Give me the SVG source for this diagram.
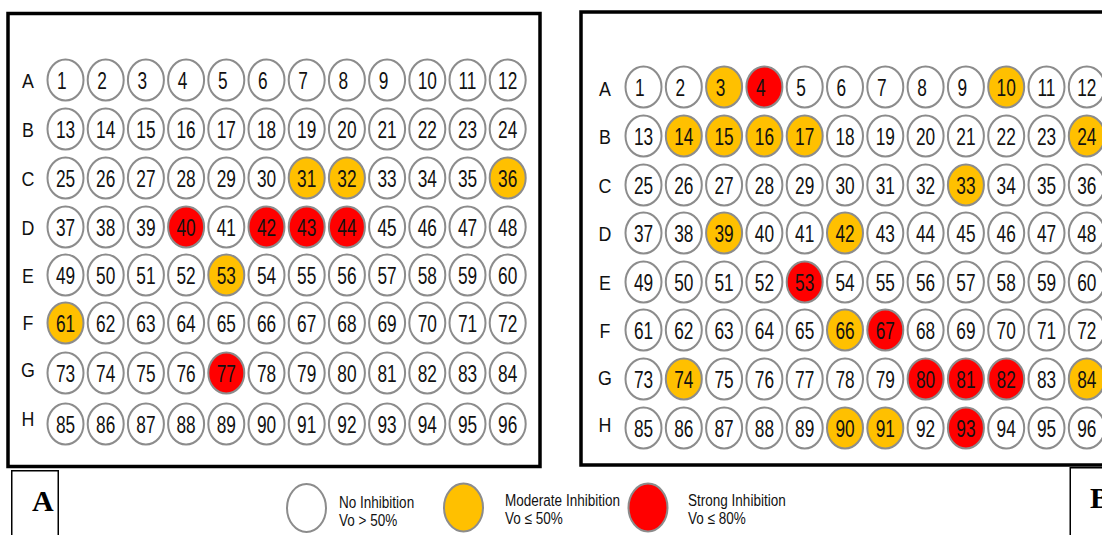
<svg xmlns="http://www.w3.org/2000/svg" width="1102" height="535" viewBox="0 0 1102 535">
<style>
.bg{fill:#fff}
.frame{fill:none;stroke:#000;stroke-width:3.5}
.lbox{fill:none;stroke:#000;stroke-width:1.5}
.w{fill:#fff;stroke:#8c8c8c;stroke-width:2}
.o{fill:#ffc000}
.r{fill:#ff0000}
.n{font-family:"Liberation Sans",Arial,sans-serif;font-size:24px;text-anchor:middle;fill:#111;transform:scaleX(.72)}
.row{font-family:"Liberation Sans",Arial,sans-serif;font-size:21px;text-anchor:middle;fill:#111;transform:scaleX(.85)}
.pl{font-family:"Liberation Serif","Times New Roman",serif;font-size:30px;font-weight:bold;fill:#000}
.lg{font-family:"Liberation Sans",Arial,sans-serif;font-size:16.5px;fill:#111;transform:scaleX(.82)}
</style>
<rect class="bg" width="1102" height="535"/>

<g id="panelA">
<rect class="frame" x="8" y="13.5" width="532" height="453"/>
<g id="rowsA">
<g transform="translate(28,87.5)"><text class="row">A</text></g>
<g transform="translate(28,136.5)"><text class="row">B</text></g>
<g transform="translate(28,185.5)"><text class="row">C</text></g>
<g transform="translate(28,234.5)"><text class="row">D</text></g>
<g transform="translate(28,282.5)"><text class="row">E</text></g>
<g transform="translate(28,329.5)"><text class="row">F</text></g>
<g transform="translate(28,376.5)"><text class="row">G</text></g>
<g transform="translate(28,425.5)"><text class="row">H</text></g>
</g>
<g id="A1" transform="translate(65.5,80)"><ellipse class="w" rx="18" ry="20.5"/><text class="n" x="-5" y="8.5">1</text></g>
<g id="A2" transform="translate(105.7,80)"><ellipse class="w" rx="18" ry="20.5"/><text class="n" x="-5" y="8.5">2</text></g>
<g id="A3" transform="translate(145.9,80)"><ellipse class="w" rx="18" ry="20.5"/><text class="n" x="-5" y="8.5">3</text></g>
<g id="A4" transform="translate(186.1,80)"><ellipse class="w" rx="18" ry="20.5"/><text class="n" x="-5" y="8.5">4</text></g>
<g id="A5" transform="translate(226.3,80)"><ellipse class="w" rx="18" ry="20.5"/><text class="n" x="-5" y="8.5">5</text></g>
<g id="A6" transform="translate(266.5,80)"><ellipse class="w" rx="18" ry="20.5"/><text class="n" x="-5" y="8.5">6</text></g>
<g id="A7" transform="translate(306.7,80)"><ellipse class="w" rx="18" ry="20.5"/><text class="n" x="-5" y="8.5">7</text></g>
<g id="A8" transform="translate(346.9,80)"><ellipse class="w" rx="18" ry="20.5"/><text class="n" x="-5" y="8.5">8</text></g>
<g id="A9" transform="translate(387.1,80)"><ellipse class="w" rx="18" ry="20.5"/><text class="n" x="-5" y="8.5">9</text></g>
<g id="A10" transform="translate(427.3,80)"><ellipse class="w" rx="18" ry="20.5"/><text class="n" y="8.5">10</text></g>
<g id="A11" transform="translate(467.5,80)"><ellipse class="w" rx="18" ry="20.5"/><text class="n" y="8.5">11</text></g>
<g id="A12" transform="translate(507.7,80)"><ellipse class="w" rx="18" ry="20.5"/><text class="n" y="8.5">12</text></g>
<g id="A13" transform="translate(65.5,129)"><ellipse class="w" rx="18" ry="20.5"/><text class="n" y="8.5">13</text></g>
<g id="A14" transform="translate(105.7,129)"><ellipse class="w" rx="18" ry="20.5"/><text class="n" y="8.5">14</text></g>
<g id="A15" transform="translate(145.9,129)"><ellipse class="w" rx="18" ry="20.5"/><text class="n" y="8.5">15</text></g>
<g id="A16" transform="translate(186.1,129)"><ellipse class="w" rx="18" ry="20.5"/><text class="n" y="8.5">16</text></g>
<g id="A17" transform="translate(226.3,129)"><ellipse class="w" rx="18" ry="20.5"/><text class="n" y="8.5">17</text></g>
<g id="A18" transform="translate(266.5,129)"><ellipse class="w" rx="18" ry="20.5"/><text class="n" y="8.5">18</text></g>
<g id="A19" transform="translate(306.7,129)"><ellipse class="w" rx="18" ry="20.5"/><text class="n" y="8.5">19</text></g>
<g id="A20" transform="translate(346.9,129)"><ellipse class="w" rx="18" ry="20.5"/><text class="n" y="8.5">20</text></g>
<g id="A21" transform="translate(387.1,129)"><ellipse class="w" rx="18" ry="20.5"/><text class="n" y="8.5">21</text></g>
<g id="A22" transform="translate(427.3,129)"><ellipse class="w" rx="18" ry="20.5"/><text class="n" y="8.5">22</text></g>
<g id="A23" transform="translate(467.5,129)"><ellipse class="w" rx="18" ry="20.5"/><text class="n" y="8.5">23</text></g>
<g id="A24" transform="translate(507.7,129)"><ellipse class="w" rx="18" ry="20.5"/><text class="n" y="8.5">24</text></g>
<g id="A25" transform="translate(65.5,178)"><ellipse class="w" rx="18" ry="20.5"/><text class="n" y="8.5">25</text></g>
<g id="A26" transform="translate(105.7,178)"><ellipse class="w" rx="18" ry="20.5"/><text class="n" y="8.5">26</text></g>
<g id="A27" transform="translate(145.9,178)"><ellipse class="w" rx="18" ry="20.5"/><text class="n" y="8.5">27</text></g>
<g id="A28" transform="translate(186.1,178)"><ellipse class="w" rx="18" ry="20.5"/><text class="n" y="8.5">28</text></g>
<g id="A29" transform="translate(226.3,178)"><ellipse class="w" rx="18" ry="20.5"/><text class="n" y="8.5">29</text></g>
<g id="A30" transform="translate(266.5,178)"><ellipse class="w" rx="18" ry="20.5"/><text class="n" y="8.5">30</text></g>
<g id="A31" transform="translate(306.7,178)"><ellipse class="w o" rx="18" ry="20.5"/><text class="n" y="8.5">31</text></g>
<g id="A32" transform="translate(346.9,178)"><ellipse class="w o" rx="18" ry="20.5"/><text class="n" y="8.5">32</text></g>
<g id="A33" transform="translate(387.1,178)"><ellipse class="w" rx="18" ry="20.5"/><text class="n" y="8.5">33</text></g>
<g id="A34" transform="translate(427.3,178)"><ellipse class="w" rx="18" ry="20.5"/><text class="n" y="8.5">34</text></g>
<g id="A35" transform="translate(467.5,178)"><ellipse class="w" rx="18" ry="20.5"/><text class="n" y="8.5">35</text></g>
<g id="A36" transform="translate(507.7,178)"><ellipse class="w o" rx="18" ry="20.5"/><text class="n" y="8.5">36</text></g>
<g id="A37" transform="translate(65.5,227)"><ellipse class="w" rx="18" ry="20.5"/><text class="n" y="8.5">37</text></g>
<g id="A38" transform="translate(105.7,227)"><ellipse class="w" rx="18" ry="20.5"/><text class="n" y="8.5">38</text></g>
<g id="A39" transform="translate(145.9,227)"><ellipse class="w" rx="18" ry="20.5"/><text class="n" y="8.5">39</text></g>
<g id="A40" transform="translate(186.1,227)"><ellipse class="w r" rx="18" ry="20.5"/><text class="n" y="8.5">40</text></g>
<g id="A41" transform="translate(226.3,227)"><ellipse class="w" rx="18" ry="20.5"/><text class="n" y="8.5">41</text></g>
<g id="A42" transform="translate(266.5,227)"><ellipse class="w r" rx="18" ry="20.5"/><text class="n" y="8.5">42</text></g>
<g id="A43" transform="translate(306.7,227)"><ellipse class="w r" rx="18" ry="20.5"/><text class="n" y="8.5">43</text></g>
<g id="A44" transform="translate(346.9,227)"><ellipse class="w r" rx="18" ry="20.5"/><text class="n" y="8.5">44</text></g>
<g id="A45" transform="translate(387.1,227)"><ellipse class="w" rx="18" ry="20.5"/><text class="n" y="8.5">45</text></g>
<g id="A46" transform="translate(427.3,227)"><ellipse class="w" rx="18" ry="20.5"/><text class="n" y="8.5">46</text></g>
<g id="A47" transform="translate(467.5,227)"><ellipse class="w" rx="18" ry="20.5"/><text class="n" y="8.5">47</text></g>
<g id="A48" transform="translate(507.7,227)"><ellipse class="w" rx="18" ry="20.5"/><text class="n" y="8.5">48</text></g>
<g id="A49" transform="translate(65.5,275)"><ellipse class="w" rx="18" ry="20.5"/><text class="n" y="8.5">49</text></g>
<g id="A50" transform="translate(105.7,275)"><ellipse class="w" rx="18" ry="20.5"/><text class="n" y="8.5">50</text></g>
<g id="A51" transform="translate(145.9,275)"><ellipse class="w" rx="18" ry="20.5"/><text class="n" y="8.5">51</text></g>
<g id="A52" transform="translate(186.1,275)"><ellipse class="w" rx="18" ry="20.5"/><text class="n" y="8.5">52</text></g>
<g id="A53" transform="translate(226.3,275)"><ellipse class="w o" rx="18" ry="20.5"/><text class="n" y="8.5">53</text></g>
<g id="A54" transform="translate(266.5,275)"><ellipse class="w" rx="18" ry="20.5"/><text class="n" y="8.5">54</text></g>
<g id="A55" transform="translate(306.7,275)"><ellipse class="w" rx="18" ry="20.5"/><text class="n" y="8.5">55</text></g>
<g id="A56" transform="translate(346.9,275)"><ellipse class="w" rx="18" ry="20.5"/><text class="n" y="8.5">56</text></g>
<g id="A57" transform="translate(387.1,275)"><ellipse class="w" rx="18" ry="20.5"/><text class="n" y="8.5">57</text></g>
<g id="A58" transform="translate(427.3,275)"><ellipse class="w" rx="18" ry="20.5"/><text class="n" y="8.5">58</text></g>
<g id="A59" transform="translate(467.5,275)"><ellipse class="w" rx="18" ry="20.5"/><text class="n" y="8.5">59</text></g>
<g id="A60" transform="translate(507.7,275)"><ellipse class="w" rx="18" ry="20.5"/><text class="n" y="8.5">60</text></g>
<g id="A61" transform="translate(65.5,323)"><ellipse class="w o" rx="18" ry="20.5"/><text class="n" y="8.5">61</text></g>
<g id="A62" transform="translate(105.7,323)"><ellipse class="w" rx="18" ry="20.5"/><text class="n" y="8.5">62</text></g>
<g id="A63" transform="translate(145.9,323)"><ellipse class="w" rx="18" ry="20.5"/><text class="n" y="8.5">63</text></g>
<g id="A64" transform="translate(186.1,323)"><ellipse class="w" rx="18" ry="20.5"/><text class="n" y="8.5">64</text></g>
<g id="A65" transform="translate(226.3,323)"><ellipse class="w" rx="18" ry="20.5"/><text class="n" y="8.5">65</text></g>
<g id="A66" transform="translate(266.5,323)"><ellipse class="w" rx="18" ry="20.5"/><text class="n" y="8.5">66</text></g>
<g id="A67" transform="translate(306.7,323)"><ellipse class="w" rx="18" ry="20.5"/><text class="n" y="8.5">67</text></g>
<g id="A68" transform="translate(346.9,323)"><ellipse class="w" rx="18" ry="20.5"/><text class="n" y="8.5">68</text></g>
<g id="A69" transform="translate(387.1,323)"><ellipse class="w" rx="18" ry="20.5"/><text class="n" y="8.5">69</text></g>
<g id="A70" transform="translate(427.3,323)"><ellipse class="w" rx="18" ry="20.5"/><text class="n" y="8.5">70</text></g>
<g id="A71" transform="translate(467.5,323)"><ellipse class="w" rx="18" ry="20.5"/><text class="n" y="8.5">71</text></g>
<g id="A72" transform="translate(507.7,323)"><ellipse class="w" rx="18" ry="20.5"/><text class="n" y="8.5">72</text></g>
<g id="A73" transform="translate(65.5,373)"><ellipse class="w" rx="18" ry="20.5"/><text class="n" y="8.5">73</text></g>
<g id="A74" transform="translate(105.7,373)"><ellipse class="w" rx="18" ry="20.5"/><text class="n" y="8.5">74</text></g>
<g id="A75" transform="translate(145.9,373)"><ellipse class="w" rx="18" ry="20.5"/><text class="n" y="8.5">75</text></g>
<g id="A76" transform="translate(186.1,373)"><ellipse class="w" rx="18" ry="20.5"/><text class="n" y="8.5">76</text></g>
<g id="A77" transform="translate(226.3,373)"><ellipse class="w r" rx="18" ry="20.5"/><text class="n" y="8.5">77</text></g>
<g id="A78" transform="translate(266.5,373)"><ellipse class="w" rx="18" ry="20.5"/><text class="n" y="8.5">78</text></g>
<g id="A79" transform="translate(306.7,373)"><ellipse class="w" rx="18" ry="20.5"/><text class="n" y="8.5">79</text></g>
<g id="A80" transform="translate(346.9,373)"><ellipse class="w" rx="18" ry="20.5"/><text class="n" y="8.5">80</text></g>
<g id="A81" transform="translate(387.1,373)"><ellipse class="w" rx="18" ry="20.5"/><text class="n" y="8.5">81</text></g>
<g id="A82" transform="translate(427.3,373)"><ellipse class="w" rx="18" ry="20.5"/><text class="n" y="8.5">82</text></g>
<g id="A83" transform="translate(467.5,373)"><ellipse class="w" rx="18" ry="20.5"/><text class="n" y="8.5">83</text></g>
<g id="A84" transform="translate(507.7,373)"><ellipse class="w" rx="18" ry="20.5"/><text class="n" y="8.5">84</text></g>
<g id="A85" transform="translate(65.5,424)"><ellipse class="w" rx="18" ry="20.5"/><text class="n" y="8.5">85</text></g>
<g id="A86" transform="translate(105.7,424)"><ellipse class="w" rx="18" ry="20.5"/><text class="n" y="8.5">86</text></g>
<g id="A87" transform="translate(145.9,424)"><ellipse class="w" rx="18" ry="20.5"/><text class="n" y="8.5">87</text></g>
<g id="A88" transform="translate(186.1,424)"><ellipse class="w" rx="18" ry="20.5"/><text class="n" y="8.5">88</text></g>
<g id="A89" transform="translate(226.3,424)"><ellipse class="w" rx="18" ry="20.5"/><text class="n" y="8.5">89</text></g>
<g id="A90" transform="translate(266.5,424)"><ellipse class="w" rx="18" ry="20.5"/><text class="n" y="8.5">90</text></g>
<g id="A91" transform="translate(306.7,424)"><ellipse class="w" rx="18" ry="20.5"/><text class="n" y="8.5">91</text></g>
<g id="A92" transform="translate(346.9,424)"><ellipse class="w" rx="18" ry="20.5"/><text class="n" y="8.5">92</text></g>
<g id="A93" transform="translate(387.1,424)"><ellipse class="w" rx="18" ry="20.5"/><text class="n" y="8.5">93</text></g>
<g id="A94" transform="translate(427.3,424)"><ellipse class="w" rx="18" ry="20.5"/><text class="n" y="8.5">94</text></g>
<g id="A95" transform="translate(467.5,424)"><ellipse class="w" rx="18" ry="20.5"/><text class="n" y="8.5">95</text></g>
<g id="A96" transform="translate(507.7,424)"><ellipse class="w" rx="18" ry="20.5"/><text class="n" y="8.5">96</text></g>
</g>

<g id="panelB">
<rect class="frame" x="581" y="12" width="540" height="453"/>
<g id="rowsB">
<g transform="translate(605,95.5)"><text class="row">A</text></g>
<g transform="translate(605,143.5)"><text class="row">B</text></g>
<g transform="translate(605,192.5)"><text class="row">C</text></g>
<g transform="translate(605,240.5)"><text class="row">D</text></g>
<g transform="translate(605,289.5)"><text class="row">E</text></g>
<g transform="translate(605,337.5)"><text class="row">F</text></g>
<g transform="translate(605,384.5)"><text class="row">G</text></g>
<g transform="translate(605,431.5)"><text class="row">H</text></g>
</g>
<g id="B1" transform="translate(643.5,87)"><ellipse class="w" rx="18" ry="20.5"/><text class="n" x="-5" y="8.5">1</text></g>
<g id="B2" transform="translate(683.8,87)"><ellipse class="w" rx="18" ry="20.5"/><text class="n" x="-5" y="8.5">2</text></g>
<g id="B3" transform="translate(724.1,87)"><ellipse class="w o" rx="18" ry="20.5"/><text class="n" x="-5" y="8.5">3</text></g>
<g id="B4" transform="translate(764.4,87)"><ellipse class="w r" rx="18" ry="20.5"/><text class="n" x="-5" y="8.5">4</text></g>
<g id="B5" transform="translate(804.7,87)"><ellipse class="w" rx="18" ry="20.5"/><text class="n" x="-5" y="8.5">5</text></g>
<g id="B6" transform="translate(845,87)"><ellipse class="w" rx="18" ry="20.5"/><text class="n" x="-5" y="8.5">6</text></g>
<g id="B7" transform="translate(885.3,87)"><ellipse class="w" rx="18" ry="20.5"/><text class="n" x="-5" y="8.5">7</text></g>
<g id="B8" transform="translate(925.6,87)"><ellipse class="w" rx="18" ry="20.5"/><text class="n" x="-5" y="8.5">8</text></g>
<g id="B9" transform="translate(965.9,87)"><ellipse class="w" rx="18" ry="20.5"/><text class="n" x="-5" y="8.5">9</text></g>
<g id="B10" transform="translate(1006.2,87)"><ellipse class="w o" rx="18" ry="20.5"/><text class="n" y="8.5">10</text></g>
<g id="B11" transform="translate(1046.5,87)"><ellipse class="w" rx="18" ry="20.5"/><text class="n" y="8.5">11</text></g>
<g id="B12" transform="translate(1086.8,87)"><ellipse class="w" rx="18" ry="20.5"/><text class="n" y="8.5">12</text></g>
<g id="B13" transform="translate(643.5,136)"><ellipse class="w" rx="18" ry="20.5"/><text class="n" y="8.5">13</text></g>
<g id="B14" transform="translate(683.8,136)"><ellipse class="w o" rx="18" ry="20.5"/><text class="n" y="8.5">14</text></g>
<g id="B15" transform="translate(724.1,136)"><ellipse class="w o" rx="18" ry="20.5"/><text class="n" y="8.5">15</text></g>
<g id="B16" transform="translate(764.4,136)"><ellipse class="w o" rx="18" ry="20.5"/><text class="n" y="8.5">16</text></g>
<g id="B17" transform="translate(804.7,136)"><ellipse class="w o" rx="18" ry="20.5"/><text class="n" y="8.5">17</text></g>
<g id="B18" transform="translate(845,136)"><ellipse class="w" rx="18" ry="20.5"/><text class="n" y="8.5">18</text></g>
<g id="B19" transform="translate(885.3,136)"><ellipse class="w" rx="18" ry="20.5"/><text class="n" y="8.5">19</text></g>
<g id="B20" transform="translate(925.6,136)"><ellipse class="w" rx="18" ry="20.5"/><text class="n" y="8.5">20</text></g>
<g id="B21" transform="translate(965.9,136)"><ellipse class="w" rx="18" ry="20.5"/><text class="n" y="8.5">21</text></g>
<g id="B22" transform="translate(1006.2,136)"><ellipse class="w" rx="18" ry="20.5"/><text class="n" y="8.5">22</text></g>
<g id="B23" transform="translate(1046.5,136)"><ellipse class="w" rx="18" ry="20.5"/><text class="n" y="8.5">23</text></g>
<g id="B24" transform="translate(1086.8,136)"><ellipse class="w o" rx="18" ry="20.5"/><text class="n" y="8.5">24</text></g>
<g id="B25" transform="translate(643.5,185)"><ellipse class="w" rx="18" ry="20.5"/><text class="n" y="8.5">25</text></g>
<g id="B26" transform="translate(683.8,185)"><ellipse class="w" rx="18" ry="20.5"/><text class="n" y="8.5">26</text></g>
<g id="B27" transform="translate(724.1,185)"><ellipse class="w" rx="18" ry="20.5"/><text class="n" y="8.5">27</text></g>
<g id="B28" transform="translate(764.4,185)"><ellipse class="w" rx="18" ry="20.5"/><text class="n" y="8.5">28</text></g>
<g id="B29" transform="translate(804.7,185)"><ellipse class="w" rx="18" ry="20.5"/><text class="n" y="8.5">29</text></g>
<g id="B30" transform="translate(845,185)"><ellipse class="w" rx="18" ry="20.5"/><text class="n" y="8.5">30</text></g>
<g id="B31" transform="translate(885.3,185)"><ellipse class="w" rx="18" ry="20.5"/><text class="n" y="8.5">31</text></g>
<g id="B32" transform="translate(925.6,185)"><ellipse class="w" rx="18" ry="20.5"/><text class="n" y="8.5">32</text></g>
<g id="B33" transform="translate(965.9,185)"><ellipse class="w o" rx="18" ry="20.5"/><text class="n" y="8.5">33</text></g>
<g id="B34" transform="translate(1006.2,185)"><ellipse class="w" rx="18" ry="20.5"/><text class="n" y="8.5">34</text></g>
<g id="B35" transform="translate(1046.5,185)"><ellipse class="w" rx="18" ry="20.5"/><text class="n" y="8.5">35</text></g>
<g id="B36" transform="translate(1086.8,185)"><ellipse class="w" rx="18" ry="20.5"/><text class="n" y="8.5">36</text></g>
<g id="B37" transform="translate(643.5,233)"><ellipse class="w" rx="18" ry="20.5"/><text class="n" y="8.5">37</text></g>
<g id="B38" transform="translate(683.8,233)"><ellipse class="w" rx="18" ry="20.5"/><text class="n" y="8.5">38</text></g>
<g id="B39" transform="translate(724.1,233)"><ellipse class="w o" rx="18" ry="20.5"/><text class="n" y="8.5">39</text></g>
<g id="B40" transform="translate(764.4,233)"><ellipse class="w" rx="18" ry="20.5"/><text class="n" y="8.5">40</text></g>
<g id="B41" transform="translate(804.7,233)"><ellipse class="w" rx="18" ry="20.5"/><text class="n" y="8.5">41</text></g>
<g id="B42" transform="translate(845,233)"><ellipse class="w o" rx="18" ry="20.5"/><text class="n" y="8.5">42</text></g>
<g id="B43" transform="translate(885.3,233)"><ellipse class="w" rx="18" ry="20.5"/><text class="n" y="8.5">43</text></g>
<g id="B44" transform="translate(925.6,233)"><ellipse class="w" rx="18" ry="20.5"/><text class="n" y="8.5">44</text></g>
<g id="B45" transform="translate(965.9,233)"><ellipse class="w" rx="18" ry="20.5"/><text class="n" y="8.5">45</text></g>
<g id="B46" transform="translate(1006.2,233)"><ellipse class="w" rx="18" ry="20.5"/><text class="n" y="8.5">46</text></g>
<g id="B47" transform="translate(1046.5,233)"><ellipse class="w" rx="18" ry="20.5"/><text class="n" y="8.5">47</text></g>
<g id="B48" transform="translate(1086.8,233)"><ellipse class="w" rx="18" ry="20.5"/><text class="n" y="8.5">48</text></g>
<g id="B49" transform="translate(643.5,282)"><ellipse class="w" rx="18" ry="20.5"/><text class="n" y="8.5">49</text></g>
<g id="B50" transform="translate(683.8,282)"><ellipse class="w" rx="18" ry="20.5"/><text class="n" y="8.5">50</text></g>
<g id="B51" transform="translate(724.1,282)"><ellipse class="w" rx="18" ry="20.5"/><text class="n" y="8.5">51</text></g>
<g id="B52" transform="translate(764.4,282)"><ellipse class="w" rx="18" ry="20.5"/><text class="n" y="8.5">52</text></g>
<g id="B53" transform="translate(804.7,282)"><ellipse class="w r" rx="18" ry="20.5"/><text class="n" y="8.5">53</text></g>
<g id="B54" transform="translate(845,282)"><ellipse class="w" rx="18" ry="20.5"/><text class="n" y="8.5">54</text></g>
<g id="B55" transform="translate(885.3,282)"><ellipse class="w" rx="18" ry="20.5"/><text class="n" y="8.5">55</text></g>
<g id="B56" transform="translate(925.6,282)"><ellipse class="w" rx="18" ry="20.5"/><text class="n" y="8.5">56</text></g>
<g id="B57" transform="translate(965.9,282)"><ellipse class="w" rx="18" ry="20.5"/><text class="n" y="8.5">57</text></g>
<g id="B58" transform="translate(1006.2,282)"><ellipse class="w" rx="18" ry="20.5"/><text class="n" y="8.5">58</text></g>
<g id="B59" transform="translate(1046.5,282)"><ellipse class="w" rx="18" ry="20.5"/><text class="n" y="8.5">59</text></g>
<g id="B60" transform="translate(1086.8,282)"><ellipse class="w" rx="18" ry="20.5"/><text class="n" y="8.5">60</text></g>
<g id="B61" transform="translate(643.5,330)"><ellipse class="w" rx="18" ry="20.5"/><text class="n" y="8.5">61</text></g>
<g id="B62" transform="translate(683.8,330)"><ellipse class="w" rx="18" ry="20.5"/><text class="n" y="8.5">62</text></g>
<g id="B63" transform="translate(724.1,330)"><ellipse class="w" rx="18" ry="20.5"/><text class="n" y="8.5">63</text></g>
<g id="B64" transform="translate(764.4,330)"><ellipse class="w" rx="18" ry="20.5"/><text class="n" y="8.5">64</text></g>
<g id="B65" transform="translate(804.7,330)"><ellipse class="w" rx="18" ry="20.5"/><text class="n" y="8.5">65</text></g>
<g id="B66" transform="translate(845,330)"><ellipse class="w o" rx="18" ry="20.5"/><text class="n" y="8.5">66</text></g>
<g id="B67" transform="translate(885.3,330)"><ellipse class="w r" rx="18" ry="20.5"/><text class="n" y="8.5">67</text></g>
<g id="B68" transform="translate(925.6,330)"><ellipse class="w" rx="18" ry="20.5"/><text class="n" y="8.5">68</text></g>
<g id="B69" transform="translate(965.9,330)"><ellipse class="w" rx="18" ry="20.5"/><text class="n" y="8.5">69</text></g>
<g id="B70" transform="translate(1006.2,330)"><ellipse class="w" rx="18" ry="20.5"/><text class="n" y="8.5">70</text></g>
<g id="B71" transform="translate(1046.5,330)"><ellipse class="w" rx="18" ry="20.5"/><text class="n" y="8.5">71</text></g>
<g id="B72" transform="translate(1086.8,330)"><ellipse class="w" rx="18" ry="20.5"/><text class="n" y="8.5">72</text></g>
<g id="B73" transform="translate(643.5,379)"><ellipse class="w" rx="18" ry="20.5"/><text class="n" y="8.5">73</text></g>
<g id="B74" transform="translate(683.8,379)"><ellipse class="w o" rx="18" ry="20.5"/><text class="n" y="8.5">74</text></g>
<g id="B75" transform="translate(724.1,379)"><ellipse class="w" rx="18" ry="20.5"/><text class="n" y="8.5">75</text></g>
<g id="B76" transform="translate(764.4,379)"><ellipse class="w" rx="18" ry="20.5"/><text class="n" y="8.5">76</text></g>
<g id="B77" transform="translate(804.7,379)"><ellipse class="w" rx="18" ry="20.5"/><text class="n" y="8.5">77</text></g>
<g id="B78" transform="translate(845,379)"><ellipse class="w" rx="18" ry="20.5"/><text class="n" y="8.5">78</text></g>
<g id="B79" transform="translate(885.3,379)"><ellipse class="w" rx="18" ry="20.5"/><text class="n" y="8.5">79</text></g>
<g id="B80" transform="translate(925.6,379)"><ellipse class="w r" rx="18" ry="20.5"/><text class="n" y="8.5">80</text></g>
<g id="B81" transform="translate(965.9,379)"><ellipse class="w r" rx="18" ry="20.5"/><text class="n" y="8.5">81</text></g>
<g id="B82" transform="translate(1006.2,379)"><ellipse class="w r" rx="18" ry="20.5"/><text class="n" y="8.5">82</text></g>
<g id="B83" transform="translate(1046.5,379)"><ellipse class="w" rx="18" ry="20.5"/><text class="n" y="8.5">83</text></g>
<g id="B84" transform="translate(1086.8,379)"><ellipse class="w o" rx="18" ry="20.5"/><text class="n" y="8.5">84</text></g>
<g id="B85" transform="translate(643.5,428)"><ellipse class="w" rx="18" ry="20.5"/><text class="n" y="8.5">85</text></g>
<g id="B86" transform="translate(683.8,428)"><ellipse class="w" rx="18" ry="20.5"/><text class="n" y="8.5">86</text></g>
<g id="B87" transform="translate(724.1,428)"><ellipse class="w" rx="18" ry="20.5"/><text class="n" y="8.5">87</text></g>
<g id="B88" transform="translate(764.4,428)"><ellipse class="w" rx="18" ry="20.5"/><text class="n" y="8.5">88</text></g>
<g id="B89" transform="translate(804.7,428)"><ellipse class="w" rx="18" ry="20.5"/><text class="n" y="8.5">89</text></g>
<g id="B90" transform="translate(845,428)"><ellipse class="w o" rx="18" ry="20.5"/><text class="n" y="8.5">90</text></g>
<g id="B91" transform="translate(885.3,428)"><ellipse class="w o" rx="18" ry="20.5"/><text class="n" y="8.5">91</text></g>
<g id="B92" transform="translate(925.6,428)"><ellipse class="w" rx="18" ry="20.5"/><text class="n" y="8.5">92</text></g>
<g id="B93" transform="translate(965.9,428)"><ellipse class="w r" rx="18" ry="20.5"/><text class="n" y="8.5">93</text></g>
<g id="B94" transform="translate(1006.2,428)"><ellipse class="w" rx="18" ry="20.5"/><text class="n" y="8.5">94</text></g>
<g id="B95" transform="translate(1046.5,428)"><ellipse class="w" rx="18" ry="20.5"/><text class="n" y="8.5">95</text></g>
<g id="B96" transform="translate(1086.8,428)"><ellipse class="w" rx="18" ry="20.5"/><text class="n" y="8.5">96</text></g>
</g>

<g id="labelA">
<rect class="lbox" x="11.75" y="470.75" width="46.5" height="80"/>
<text class="pl" x="32" y="511">A</text>
</g>
<g id="labelB">
<rect class="lbox" x="1070.25" y="467.75" width="60" height="80"/>
<text class="pl" x="1090" y="508">B</text>
</g>

<g id="legend">
<g id="leg-none">
<ellipse class="w" cx="306.5" cy="508" rx="19.5" ry="24"/>
<g transform="translate(339,508)"><text class="lg">No Inhibition</text></g>
<g transform="translate(339,526)"><text class="lg">Vo &gt; 50%</text></g>
</g>
<g id="leg-moderate">
<ellipse class="w o" cx="463.5" cy="507.5" rx="19.5" ry="24"/>
<g transform="translate(505,506)"><text class="lg">Moderate Inhibition</text></g>
<g transform="translate(505,524)"><text class="lg">Vo ≤ 50%</text></g>
</g>
<g id="leg-strong">
<ellipse class="w r" cx="648" cy="507.5" rx="19.5" ry="24"/>
<g transform="translate(688,506)"><text class="lg">Strong Inhibition</text></g>
<g transform="translate(688,524)"><text class="lg">Vo ≤ 80%</text></g>
</g>
</g>
</svg>
